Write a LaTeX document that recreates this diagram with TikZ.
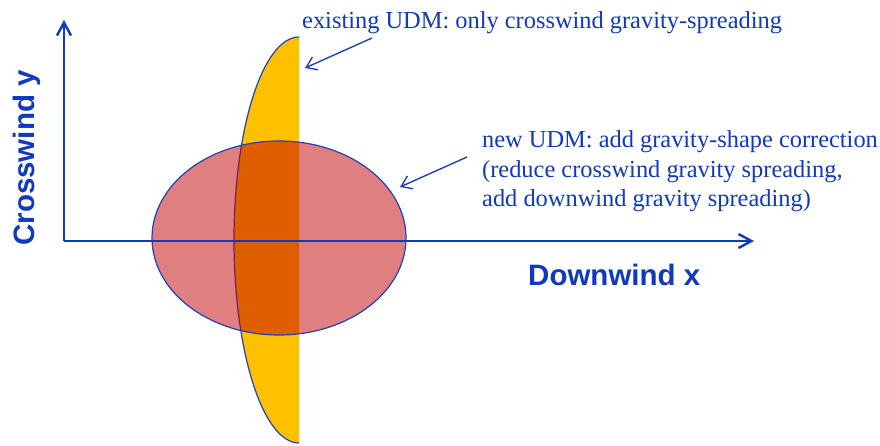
\documentclass[tikz,border=0pt]{standalone}
\usepackage{fontspec}
\setmainfont{Liberation Serif}
\setsansfont{Liberation Sans}
\usetikzlibrary{arrows.meta}
\definecolor{txtblue}{RGB}{16,56,192}
\definecolor{lineblue}{RGB}{32,64,190}
\definecolor{plumeyellow}{RGB}{255,192,0}
\definecolor{plumered}{RGB}{192,0,0}
\tikzset{
  axis/.style={line width=2.8pt, draw=txtblue, -{Straight Barb[length=13pt,width=14pt,line width=2.4pt]}},
  pointer/.style={line width=1.4pt, draw=lineblue, -{Straight Barb[length=10pt,width=14pt,line width=1.4pt]}},
  note/.style={text=txtblue, font=\fontsize{24.4}{30}\selectfont, inner sep=0pt, anchor=base west},
  axlabel/.style={text=txtblue, font=\sffamily\bfseries\fontsize{29.5}{34}\selectfont, inner sep=0pt},
  outline/.style={draw=lineblue, line width=1.2pt}
}
\begin{document}
\begin{tikzpicture}[x=1pt,y=-1pt]
\useasboundingbox (0,0) rectangle (880,445);
% yellow half ellipse (existing UDM)
\begin{scope}
  \clip (0,0) rectangle (299,445);
  \fill[plumeyellow] (299,240) ellipse[x radius=65, y radius=203];
  \draw[outline] (299,240) ellipse[x radius=65, y radius=203];
\end{scope}
% red ellipse (new UDM)
\fill[plumered, fill opacity=0.5] (279,238) ellipse[x radius=127, y radius=97];
\draw[outline] (279,238) ellipse[x radius=127, y radius=97];
% axes
\coordinate (origin) at (64,241);
\coordinate (yend) at (64,20);
\coordinate (xend) at (754,241);
\draw[axis] (origin) -- (xend);
\draw[axis] (origin) -- (yend);
\node[axlabel, rotate=90] (ylab) at (27,158) {Crosswind y};
\node[axlabel, anchor=base west] (xlab) at (528,285) {Downwind x};
% notes
\node[note] (n1) at (302,28) {existing UDM: only crosswind gravity-spreading};
\node[note] (n2a) at (482,147) {new UDM: add gravity-shape correction};
\node[note] (n2b) at (482,177) {(reduce crosswind gravity spreading,};
\node[note] (n2c) at (482,206) {add downwind gravity spreading)};
\coordinate (t1) at (372,38);
\coordinate (h1) at (305,68);
\coordinate (t2) at (467,157);
\coordinate (h2) at (400,187);
\draw[pointer] (t1) -- (h1);
\draw[pointer] (t2) -- (h2);
\end{tikzpicture}
\end{document}
